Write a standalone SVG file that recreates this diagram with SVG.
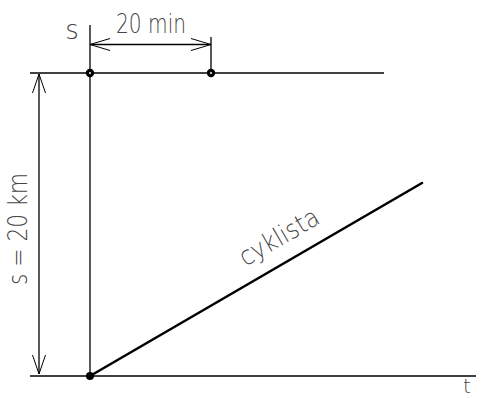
<svg xmlns="http://www.w3.org/2000/svg" width="481" height="398" viewBox="0 0 481 398">
<style>
.ln{stroke:#000;stroke-width:1.3;fill:none}
.th{stroke:#000;stroke-width:2.6;fill:none;stroke-linecap:round}
.ah{stroke:#000;stroke-width:1;fill:none}
.tx{font-family:"DejaVu Sans","Liberation Sans",Arial,sans-serif;font-size:26px;fill:#444;font-weight:200}
.ring{fill:#fff;stroke:#000;stroke-width:3.2}
</style>
<rect width="481" height="398" fill="#fff"/>
<g id="axes">
<line class="ln" x1="90" y1="25" x2="90" y2="376"/>
<line class="ln" x1="30" y1="73" x2="384" y2="73"/>
<line class="ln" x1="30" y1="376" x2="476" y2="376"/>
</g>
<g id="dim-time">
<line class="ln" x1="211" y1="37" x2="211" y2="73"/>
<line class="ln" x1="90" y1="44.5" x2="211" y2="44.5"/>
<path class="ah" d="M110,38.5 L90,44.5 L110,50.5"/>
<path class="ah" d="M191,38.5 L211,44.5 L191,50.5"/>
<text class="tx" x="151" y="33" text-anchor="middle" textLength="70" lengthAdjust="spacingAndGlyphs">20 min</text>
</g>
<g id="dim-distance">
<line class="ln" x1="39" y1="74" x2="39" y2="374"/>
<path class="ah" d="M32.5,93 L39,74 L45.5,93"/>
<path class="ah" d="M32.5,355 L39,374 L45.5,355"/>
<text class="tx" transform="translate(27,229) rotate(-90)" x="0" y="0" text-anchor="middle" textLength="112" lengthAdjust="spacingAndGlyphs">s = 20 km</text>
</g>
<g id="cyklista">
<line class="th" x1="90" y1="376" x2="422" y2="183"/>
<text class="tx" transform="translate(283.5,244.5) rotate(-30.2)" x="0" y="0" text-anchor="middle" textLength="88" lengthAdjust="spacingAndGlyphs">cyklista</text>
</g>
<g id="points">
<circle class="ring" cx="90" cy="73" r="2.6"/>
<circle class="ring" cx="211" cy="73" r="2.6"/>
<circle cx="90" cy="376" r="4" fill="#000"/>
</g>
<g id="labels">
<text class="tx" x="72" y="39" text-anchor="middle">s</text>
<text class="tx" x="467" y="393" text-anchor="middle" style="font-size:20px">t</text>
</g>
</svg>
